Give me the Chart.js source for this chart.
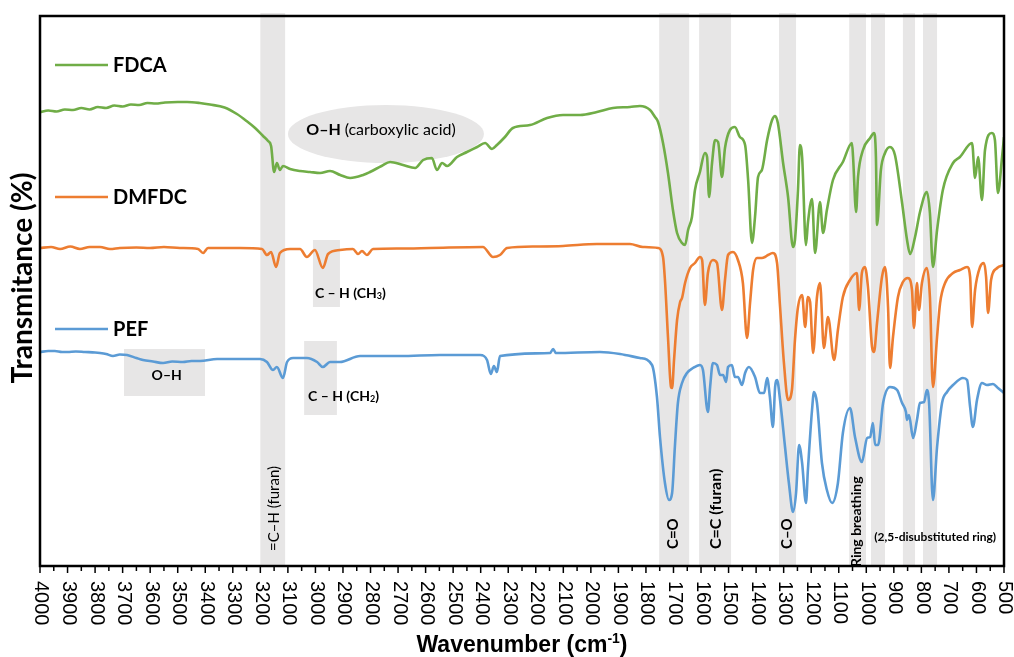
<!DOCTYPE html>
<html>
<head>
<meta charset="utf-8">
<script src="https://cdn.jsdelivr.net/npm/chart.js@4"></script>
<style>
  body { margin: 0; background: #fff; }
  canvas { display: block; }
</style>
</head>
<body>
<canvas id="ftirChart" width="1014" height="657"></canvas>
<script>
// Spectra: [wavenumber (cm-1), transmittance (arb. %)]
const fdcaPoints = [
    [4000, 90.8], [3970, 91.1], [3940, 90.9], [3910, 91.3], [3880, 91.2], [3850, 91.6], [3820, 91.3],
    [3790, 91.8], [3760, 91.6], [3730, 92.1], [3700, 91.9], [3670, 92.3], [3640, 92.2], [3610, 92.6],
    [3580, 92.5], [3546, 92.7], [3500, 92.8], [3466, 92.8], [3420, 92.6], [3383, 92.3], [3330, 91.7],
    [3285, 90.4], [3250, 89.0], [3219, 87.6], [3190, 86.0], [3172, 85.0], [3161, 84.0], [3150, 78.8],
    [3140, 80.6], [3129, 79.2], [3118, 80.0], [3092, 79.4], [3056, 79.0], [3020, 78.8], [2983, 78.6],
    [2947, 79.0], [2910, 78.2], [2874, 77.6], [2827, 78.2], [2802, 78.8], [2760, 80.0], [2729, 80.8],
    [2682, 80.2], [2638, 79.6], [2609, 81.2], [2577, 81.6], [2559, 79.2], [2540, 80.6], [2522, 80.0],
    [2486, 81.8], [2450, 82.8], [2413, 83.8], [2384, 84.6], [2359, 83.4], [2341, 84.2], [2312, 85.8],
    [2283, 87.6], [2221, 88.2], [2159, 89.6], [2101, 90.2], [2039, 90.2], [1978, 90.8], [1920, 91.6],
    [1858, 91.8], [1822, 92.0], [1785, 91.2], [1767, 89.8], [1756, 88.8], [1738, 84.6], [1720, 78.6],
    [1702, 71.2], [1687, 66.6], [1669, 64.6], [1658, 64.2], [1647, 67.2], [1633, 69.8], [1622, 75.2],
    [1604, 78.8], [1586, 82.6], [1578, 81.8], [1571, 73.8], [1560, 80.6], [1549, 85.2], [1538, 84.8],
    [1524, 77.8], [1513, 83.6], [1495, 87.2], [1477, 87.8], [1459, 85.8], [1440, 84.2], [1429, 77.2],
    [1415, 64.6], [1404, 69.8], [1393, 77.8], [1379, 79.2], [1360, 85.2], [1342, 89.2], [1331, 90.0],
    [1321, 88.6], [1302, 80.6], [1284, 73.8], [1266, 63.8], [1259, 65.2], [1248, 75.2], [1241, 84.2],
    [1233, 81.8], [1219, 64.2], [1212, 68.6], [1197, 73.4], [1186, 62.6], [1168, 72.8], [1157, 66.6],
    [1143, 71.2], [1121, 77.2], [1085, 80.8], [1052, 84.6], [1048, 81.8], [1037, 70.8], [1030, 77.8],
    [1012, 83.2], [986, 85.6], [972, 86.6], [965, 81.8], [961, 68.2], [947, 79.2], [932, 82.6],
    [914, 83.8], [896, 82.2], [870, 72.6], [852, 65.2], [841, 62.4], [823, 65.8], [805, 70.8],
    [780, 74.8], [769, 70.6], [758, 59.8], [743, 67.2], [722, 75.2], [685, 80.6], [660, 81.8],
    [616, 84.6], [605, 77.6], [594, 81.8], [580, 73.2], [569, 83.2], [544, 86.6], [533, 85.2],
    [522, 74.6], [507, 81.8], [500, 85.8]
];

const dmfdcPoints = [
    [4000, 63.6], [3960, 63.8], [3927, 63.4], [3890, 63.9], [3855, 63.4], [3820, 63.8], [3782, 63.8],
    [3746, 63.4], [3710, 63.6], [3650, 63.7], [3601, 63.6], [3550, 63.8], [3492, 63.6], [3426, 63.4],
    [3408, 62.6], [3390, 63.6], [3330, 63.6], [3274, 63.6], [3194, 63.4], [3176, 62.2], [3161, 62.8],
    [3143, 59.8], [3129, 62.6], [3092, 63.4], [3056, 63.4], [3031, 61.8], [3002, 63.2], [2973, 59.6],
    [2954, 62.4], [2911, 63.2], [2864, 63.4], [2845, 62.4], [2831, 63.0], [2813, 62.2], [2791, 63.4],
    [2700, 63.5], [2584, 63.6], [2392, 63.8], [2355, 61.8], [2330, 62.2], [2304, 63.6], [2200, 63.9],
    [2101, 64.0], [1978, 64.4], [1858, 64.4], [1811, 63.8], [1756, 63.6], [1738, 61.8], [1731, 57.2],
    [1720, 45.8], [1709, 35.8], [1705, 35.6], [1698, 41.2], [1687, 49.2], [1676, 52.8], [1669, 53.6],
    [1658, 56.6], [1640, 59.6], [1622, 60.6], [1604, 61.8], [1596, 61.2], [1586, 52.2], [1575, 58.6],
    [1557, 61.2], [1542, 60.6], [1524, 51.2], [1513, 57.2], [1502, 62.2], [1484, 62.8], [1466, 61.2],
    [1448, 56.6], [1433, 45.6], [1422, 52.6], [1411, 59.2], [1397, 61.6], [1379, 61.6], [1368, 61.8],
    [1357, 62.2], [1339, 62.6], [1324, 60.6], [1313, 51.8], [1299, 40.6], [1284, 33.2], [1270, 35.2],
    [1259, 45.2], [1248, 51.8], [1233, 54.2], [1222, 47.8], [1212, 53.8], [1204, 52.8], [1193, 42.6],
    [1179, 53.8], [1168, 56.6], [1154, 43.6], [1139, 49.8], [1117, 41.2], [1103, 47.2], [1085, 53.8],
    [1059, 57.2], [1034, 58.6], [1026, 51.2], [1016, 58.6], [1005, 59.8], [994, 55.8], [979, 43.8],
    [972, 42.8], [961, 48.6], [943, 57.8], [932, 59.8], [921, 51.8], [914, 39.6], [903, 45.8],
    [885, 53.8], [867, 56.8], [849, 57.6], [834, 55.2], [827, 47.6], [816, 56.6], [809, 51.2],
    [798, 56.6], [780, 59.6], [769, 53.8], [758, 35.8], [743, 45.8], [732, 52.6], [714, 56.6],
    [685, 58.6], [660, 59.2], [634, 59.8], [623, 57.8], [616, 47.8], [605, 55.2], [587, 59.8],
    [573, 60.6], [565, 57.8], [558, 50.6], [547, 57.2], [525, 59.6], [500, 60.2]
];

const pefPoints = [
    [4000, 42.8], [3970, 43.0], [3946, 43.0], [3920, 42.8], [3900, 42.8], [3870, 42.9], [3837, 42.8],
    [3800, 42.7], [3782, 42.6], [3760, 42.4], [3735, 42.0], [3710, 42.3], [3684, 42.2], [3650, 41.6],
    [3626, 41.2], [3590, 40.9], [3553, 40.6], [3520, 40.9], [3481, 40.8], [3450, 41.0], [3419, 41.0],
    [3357, 41.4], [3299, 41.4], [3201, 41.4], [3176, 40.8], [3154, 39.2], [3140, 39.8], [3118, 37.6],
    [3103, 40.8], [3081, 41.6], [3031, 41.6], [2994, 40.8], [2973, 39.8], [2947, 40.8], [2911, 40.8],
    [2838, 42.0], [2693, 42.0], [2548, 42.2], [2402, 42.2], [2377, 41.2], [2363, 38.4], [2352, 40.0],
    [2341, 38.8], [2330, 42.0], [2148, 42.6], [2137, 43.4], [2127, 42.6], [1967, 42.8], [1894, 42.4],
    [1822, 41.6], [1778, 40.2], [1760, 33.8], [1749, 25.8], [1731, 16.6], [1716, 13.2], [1705, 14.6],
    [1695, 23.8], [1684, 32.6], [1669, 36.6], [1651, 38.6], [1629, 39.6], [1604, 40.2], [1593, 39.2],
    [1575, 30.8], [1567, 35.8], [1557, 40.6], [1542, 40.2], [1531, 38.2], [1520, 38.2], [1509, 36.8],
    [1502, 39.8], [1488, 40.2], [1477, 37.8], [1466, 37.8], [1451, 36.2], [1440, 38.6], [1426, 39.8],
    [1404, 37.8], [1386, 34.6], [1371, 34.6], [1360, 37.6], [1350, 33.8], [1339, 27.8], [1331, 35.8],
    [1324, 37.2], [1313, 33.2], [1295, 23.8], [1281, 16.6], [1266, 10.8], [1255, 14.6], [1244, 24.2],
    [1233, 20.6], [1219, 12.6], [1212, 19.2], [1197, 31.2], [1190, 34.8], [1179, 32.6], [1161, 20.6],
    [1143, 15.2], [1124, 12.6], [1103, 16.6], [1085, 26.6], [1059, 31.6], [1041, 25.8], [1016, 20.8],
    [997, 25.6], [986, 25.8], [976, 28.6], [968, 24.2], [957, 24.2], [939, 32.6], [914, 35.8],
    [888, 35.2], [870, 32.6], [856, 30.8], [852, 29.2], [845, 30.2], [830, 25.6], [816, 29.2],
    [805, 32.6], [790, 32.8], [780, 35.2], [772, 32.6], [758, 13.2], [743, 23.8], [725, 32.6],
    [707, 34.8], [685, 36.2], [649, 37.6], [634, 37.2], [623, 31.8], [613, 27.8], [598, 33.2],
    [580, 36.6], [562, 36.2], [540, 36.4], [522, 35.6], [500, 34.6]
];

const seriesNames = ["FDCA", "DMFDC", "PEF"];
const seriesColors = ["#70AD47", "#ED7D31", "#5B9BD5"];

// shaded assignment bands (wavenumber ranges)
const bandRanges = [[3200, 3110], [1752, 1643], [1607, 1491], [1317, 1255], [1062, 1001], [983, 932], [867, 823], [794, 743]];

// x axis
const xMin = 500;
const xMax = 4000;
const tickStep = 100;
const tickLabels = [];
for (let v = xMax; v >= xMin; v -= tickStep) tickLabels.push(v);

const LABEL_FONT = "Lato, 'Open Sans', sans-serif";
const AXIS_FONT = "'Liberation Sans', Arial, sans-serif";

const decorPlugin = {
    id: "decor",
    beforeDatasetsDraw(chart) {
        const { ctx, chartArea: a, scales: { x, y } } = chart;
        ctx.save();
        ctx.fillStyle = "#E7E6E6";
        bandRanges.forEach(([w1, w2]) => {
            const x1 = x.getPixelForValue(w1);
            const x2 = x.getPixelForValue(w2);
            ctx.fillRect(x1, a.top - 3, x2 - x1, a.bottom - a.top + 3);
        });
        // label boxes
        const box = (w1, w2, t1, t2) => {
            const x1 = x.getPixelForValue(w1), x2 = x.getPixelForValue(w2);
            const y1 = y.getPixelForValue(t1), y2 = y.getPixelForValue(t2);
            ctx.fillRect(x1, y1, x2 - x1, y2 - y1);
        };
        box(3695, 3401, 43.4, 34.0);
        box(3009, 2911, 65.2, 51.8);
        box(3041, 2922, 45.0, 30.2);
        // ellipse for carboxylic O-H
        ctx.beginPath();
        ctx.ellipse(x.getPixelForValue(2744), y.getPixelForValue(86.4), 98, 29, 0, 0, Math.PI * 2);
        ctx.fill();
        ctx.restore();
    },
    afterDatasetsDraw(chart) {
        const { ctx, chartArea: a, scales: { x, y } } = chart;
        ctx.save();

        // frame
        ctx.strokeStyle = "#000";
        ctx.lineWidth = 2.5;
        ctx.strokeRect(a.left, a.top, a.right - a.left, a.bottom - a.top);

        // tick marks every 50, labels every 100
        ctx.lineWidth = 1.5;
        for (let v = xMax; v >= xMin; v -= tickStep / 2) {
            const px = x.getPixelForValue(v);
            const len = v % 100 === 0 ? 7 : 5;
            ctx.beginPath();
            ctx.moveTo(px, a.bottom);
            ctx.lineTo(px, a.bottom + len);
            ctx.stroke();
        }
        ctx.fillStyle = "#000";
        ctx.font = "20px " + AXIS_FONT;
        ctx.textAlign = "left";
        ctx.textBaseline = "middle";
        tickLabels.forEach((v) => {
            ctx.save();
            ctx.translate(x.getPixelForValue(v) + 1, a.bottom + 15);
            ctx.rotate(Math.PI / 2);
            ctx.fillText(String(v), 0, 0);
            ctx.restore();
        });

        // x title with superscript
        ctx.textBaseline = "alphabetic";
        const main = "Wavenumber (cm";
        const sup = "-1";
        const tail = ")";
        ctx.font = "bold 23px " + AXIS_FONT;
        const wMain = ctx.measureText(main).width;
        const wTail = ctx.measureText(tail).width;
        ctx.font = "bold 14px " + AXIS_FONT;
        const wSup = ctx.measureText(sup).width;
        let tx = (a.left + a.right) / 2 - (wMain + wSup + wTail) / 2;
        const ty = 652;
        ctx.font = "bold 23px " + AXIS_FONT;
        ctx.fillText(main, tx, ty);
        ctx.font = "bold 14px " + AXIS_FONT;
        ctx.fillText(sup, tx + wMain, ty - 9);
        ctx.font = "bold 23px " + AXIS_FONT;
        ctx.fillText(tail, tx + wMain + wSup, ty);

        // y title
        ctx.save();
        ctx.translate(23, 278);
        ctx.rotate(-Math.PI / 2);
        ctx.textAlign = "center";
        ctx.textBaseline = "middle";
        ctx.font = "bold 28px " + LABEL_FONT;
        ctx.fillText("Transmitance (%)", 0, 0);
        ctx.restore();

        // series labels with line swatches
        const legendY = [65, 197, 329];
        ctx.textAlign = "left";
        ctx.textBaseline = "middle";
        ctx.font = "bold 20px " + LABEL_FONT;
        seriesNames.forEach((name, i) => {
            ctx.strokeStyle = seriesColors[i];
            ctx.lineWidth = 2.5;
            ctx.beginPath();
            ctx.moveTo(55, legendY[i]);
            ctx.lineTo(108, legendY[i]);
            ctx.stroke();
            ctx.fillStyle = "#000";
            ctx.fillText(name, 113, legendY[i] + 1);
        });

        // horizontal annotations
        const rich = (parts, cx, cy) => {
            let total = 0;
            parts.forEach((p) => { ctx.font = p.font; total += ctx.measureText(p.t).width; });
            let px = cx - total / 2;
            parts.forEach((p) => {
                ctx.font = p.font;
                ctx.fillText(p.t, px, cy + (p.dy || 0));
                px += ctx.measureText(p.t).width;
            });
        };
        ctx.fillStyle = "#000";
        rich([{ t: "O\u2013H ", font: "bold 16px " + LABEL_FONT }, { t: "(carboxylic acid)", font: "16px " + LABEL_FONT }],
            x.getPixelForValue(2762), y.getPixelForValue(87.2));
        rich([{ t: "C \u2013 H (CH", font: "bold 14px " + LABEL_FONT }, { t: "3", font: "bold 9px " + LABEL_FONT, dy: 3 }, { t: ")", font: "bold 14px " + LABEL_FONT }],
            x.getPixelForValue(2873), y.getPixelForValue(54.6));
        rich([{ t: "C \u2013 H (CH", font: "bold 14px " + LABEL_FONT }, { t: "2", font: "bold 9px " + LABEL_FONT, dy: 3 }, { t: ")", font: "bold 14px " + LABEL_FONT }],
            x.getPixelForValue(2898), y.getPixelForValue(34.0));
        rich([{ t: "O\u2013H", font: "bold 14px " + LABEL_FONT }], x.getPixelForValue(3540), y.getPixelForValue(38.2));
        rich([{ t: "(2,5-disubstituted ring)", font: "bold 12px " + LABEL_FONT }], x.getPixelForValue(750), y.getPixelForValue(5.8));

        // vertical annotations, read upward from the bottom
        const vtext = (t, w, bottomY, font) => {
            ctx.save();
            ctx.translate(x.getPixelForValue(w), bottomY);
            ctx.rotate(-Math.PI / 2);
            ctx.textAlign = "left";
            ctx.textBaseline = "middle";
            ctx.font = font;
            ctx.fillText(t, 0, 0);
            ctx.restore();
        };
        vtext("=C\u2013H (furan)", 3150, 551, "15px " + LABEL_FONT);
        vtext("C=O", 1700, 549, "bold 15px " + LABEL_FONT);
        vtext("C=C (furan)", 1548, 549, "bold 16px " + LABEL_FONT);
        vtext("C\u2013O", 1287, 549, "bold 15px " + LABEL_FONT);
        vtext("Ring breathing", 1034, 567, "bold 14px " + LABEL_FONT);

        ctx.restore();
    }
};

const toXY = (pts) => pts.map(([w, t]) => ({ x: w, y: t }));

new Chart(document.getElementById("ftirChart"), {
    type: "line",
    data: {
        datasets: [fdcaPoints, dmfdcPoints, pefPoints].map((pts, i) => ({
            label: seriesNames[i],
            data: toXY(pts),
            borderColor: seriesColors[i],
            borderWidth: 2.6,
            pointRadius: 0,
            fill: false,
            cubicInterpolationMode: "monotone",
        })),
    },
    options: {
        responsive: false,
        animation: false,
        parsing: false,
        layout: { padding: { left: 40, right: 10, top: 16, bottom: 0 } },
        plugins: {
            legend: { display: false },
            tooltip: { enabled: false },
        },
        scales: {
            x: {
                type: "linear",
                reverse: true,
                min: xMin,
                max: xMax,
                ticks: { display: false, stepSize: tickStep },
                grid: { display: false },
                border: { display: false },
                afterFit(scale) { scale.height = 91; },
            },
            y: {
                display: false,
                min: 0,
                max: 110,
            },
        },
    },
    plugins: [decorPlugin],
});
</script>
</body>
</html>
